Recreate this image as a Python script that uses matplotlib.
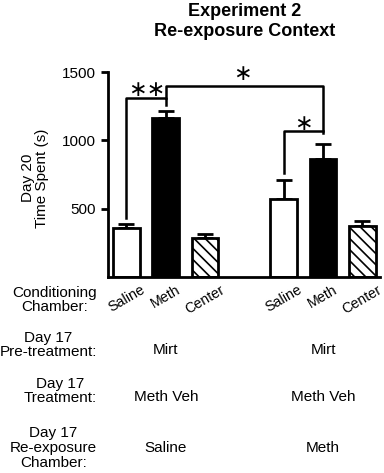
import numpy as np
import matplotlib
matplotlib.use("Agg")
import matplotlib.pyplot as plt

plt.rcParams['font.family'] = ['Liberation Sans', 'DejaVu Sans']
plt.rcParams['hatch.linewidth'] = 1.2

chambers = ['Saline', 'Meth', 'Center', 'Saline', 'Meth', 'Center']
positions = [0, 1, 2, 4, 5, 6]
means = [355, 1167, 283, 572, 862, 370]
sems = [36, 50, 29, 138, 109, 43]
faces = ['white', 'black', 'white', 'white', 'black', 'white']
hatches = ['', '', '\\\\\\', '', '', '\\\\\\']

pretreat = ['Mirt', 'Mirt']
treatment = ['Meth Veh', 'Meth Veh']
reexposure = ['Saline', 'Meth']

W, H = 384, 473
fs = 11
fig = plt.figure(figsize=(W / 100, H / 100), dpi=100)
ax = fig.add_axes([108 / W, 1 - 277 / H, 272 / W, 205 / H])

for p, m, s, fc, h in zip(positions, means, sems, faces, hatches):
    ax.bar(p, m, width=0.68, color=fc, edgecolor='black', linewidth=2, hatch=h, zorder=2)
    ax.errorbar(p, m, yerr=[[0], [s]], color='black', elinewidth=2, capsize=6,
                capthick=2, zorder=1)

ax.set_xlim(-0.47, 6.45)
ax.set_ylim(0, 1500)
ax.set_yticks([500, 1000, 1500])
ax.tick_params(axis='y', labelsize=fs, width=2, length=5, direction='out')
ax.set_xticks(positions)
ax.set_xticklabels(chambers, rotation=30, ha='center', va='top', fontsize=10.3)
ax.tick_params(axis='x', length=0, pad=4)
for sp in ['top', 'right']:
    ax.spines[sp].set_visible(False)
for sp in ['left', 'bottom']:
    ax.spines[sp].set_linewidth(2)

lw = 1.8
ast = dict(ha='center', va='center', fontsize=16, clip_on=False, family='DejaVu Sans')
# ** bracket
ax.plot([0, 0, 1, 1], [435, 1311, 1311, 1260], color='black', lw=lw, clip_on=False)
ax.text(0.52, 1370, '\u2217\u2217', **ast)
# long bracket
ax.plot([1, 1, 5, 5], [1311, 1399, 1399, 1050], color='black', lw=lw, clip_on=False)
ax.text(2.96, 1485, '\u2217', **ast)
# second group bracket
ax.plot([4, 4, 5], [760, 1065, 1065], color='black', lw=lw, clip_on=False)
ax.text(4.49, 1123, '\u2217', **ast)

fig.text(245 / W, 1 - 11 / H, 'Experiment 2', ha='center', va='center',
         fontsize=13, fontweight='bold')
fig.text(245 / W, 1 - 31 / H, 'Re-exposure Context', ha='center', va='center',
         fontsize=13, fontweight='bold')

fig.text(35 / W, 1 - 178 / H, 'Day 20\nTime Spent (s)', rotation=90, ha='center',
         va='center', fontsize=fs, multialignment='center', linespacing=1.05)

row = dict(ha='right', va='center', fontsize=fs, multialignment='center', linespacing=1.05)
fig.text(97 / W, 1 - 300 / H, 'Conditioning\nChamber:', **row)
fig.text(97 / W, 1 - 345 / H, 'Day 17\nPre-treatment:', **row)
fig.text(97 / W, 1 - 391 / H, 'Day 17\nTreatment:', **row)
fig.text(97 / W, 1 - 448 / H, 'Day 17\nRe-exposure\nChamber:', **row)

cell = dict(ha='center', va='center', fontsize=fs)
for i, x in enumerate([1, 5]):
    xf = (ax.transData.transform((x, 0))[0]) / W
    fig.text(xf, 1 - 350 / H, pretreat[i], **cell)
    fig.text(xf, 1 - 397 / H, treatment[i], **cell)
    fig.text(xf, 1 - 448 / H, reexposure[i], **cell)

fig.savefig('out.png', dpi=100)
